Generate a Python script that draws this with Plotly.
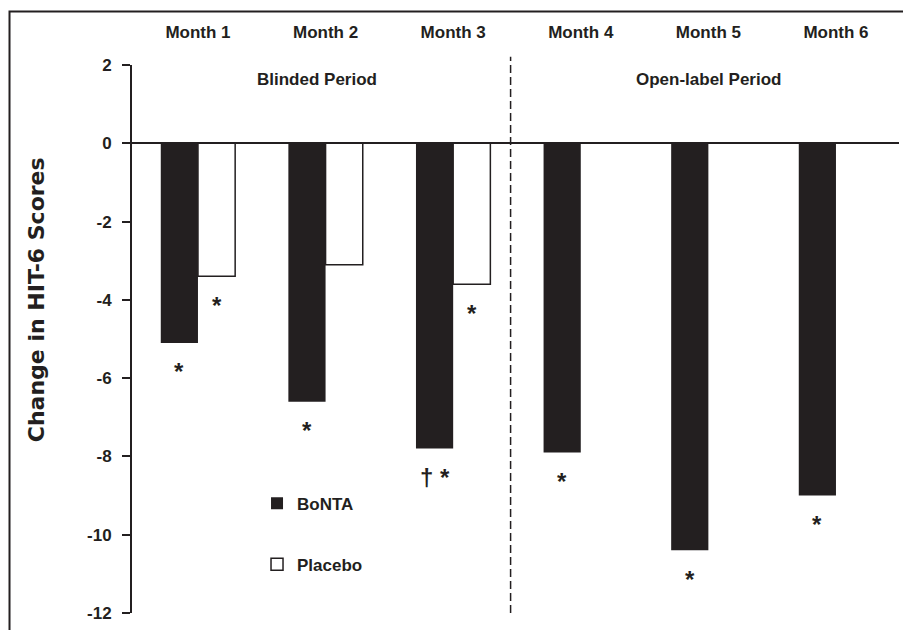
import plotly.graph_objects as go

# Mean change from baseline in HIT-6 scores, by month
months = ["Month 1", "Month 2", "Month 3", "Month 4", "Month 5", "Month 6"]
bonta = [-5.1, -6.6, -7.8, -7.9, -10.4, -9.0]
placebo = [-3.4, -3.1, -3.6, None, None, None]

# Significance markers shown under each bar
bonta_marks = ["*", "*", "† *", "*", "*", "*"]
placebo_marks = ["*", "", "*", "", "", ""]

y_ticks = [2, 0, -2, -4, -6, -8, -10, -12]
y_tick_text = ["2", "0", "-2", "-4", "-6", "-8", "-10", "-12"]

INK = "#231f20"
SANS = "Liberation Sans, Arial, Helvetica, sans-serif"
BAR_GAP = 0.417

fig = go.Figure()
fig.add_trace(go.Bar(
    name="BoNTA", x=months, y=bonta,
    marker=dict(color=INK, line=dict(color=INK, width=0)),
    legend="legend",
))
fig.add_trace(go.Bar(
    name="Placebo", x=months, y=placebo,
    marker=dict(color="white", line=dict(color=INK, width=1.5)),
    legend="legend2",
))

# star / dagger labels below the bar ends
half = (1 - BAR_GAP) / 4
mark_font = dict(family=SANS, size=24, color=INK, weight="bold")
annotations = []
for i, (v, m) in enumerate(zip(bonta, bonta_marks)):
    if m:
        annotations.append(dict(
            x=i - half, y=v, xref="x", yref="y", text=m, showarrow=False,
            xanchor="center", yanchor="middle", yshift=-29, font=mark_font,
        ))
for i, (v, m) in enumerate(zip(placebo, placebo_marks)):
    if m and v is not None:
        annotations.append(dict(
            x=i + half, y=v, xref="x", yref="y", text=m, showarrow=False,
            xanchor="center", yanchor="middle", yshift=-29, font=mark_font,
        ))

# period headings
for label, xc in [("Blinded Period", 0.93), ("Open-label Period", 4.0)]:
    annotations.append(dict(
        x=xc, y=1.62, xref="x", yref="y", text=label, showarrow=False,
        xanchor="center", yanchor="middle",
        font=dict(family=SANS, size=17, color=INK, weight="bold"),
    ))

# vertical axis title
annotations.append(dict(
    x=-0.125, y=0.571, xref="paper", yref="paper", text="Change in HIT-6 Scores",
    textangle=-90, showarrow=False, xanchor="center", yanchor="middle",
    font=dict(family="DejaVu Sans, Verdana, sans-serif", size=22, color=INK, weight="bold"),
))

shapes = [
    # divider between blinded and open-label periods
    dict(type="line", xref="x", yref="paper", x0=2.45, x1=2.45, y0=0.0, y1=1.015,
         line=dict(color=INK, width=1.5, dash="8px,4px")),
    # outer frame
    dict(type="rect", xref="paper", yref="paper", x0=-0.1597, x1=1.02, y0=-0.06, y1=1.0977,
         line=dict(color=INK, width=2), fillcolor="rgba(0,0,0,0)"),
]

legend_font = dict(family=SANS, size=17, color=INK, weight="bold")

fig.update_layout(
    width=903, height=630,
    margin=dict(l=132, r=4, t=65, b=17),
    paper_bgcolor="white", plot_bgcolor="white",
    barmode="group", bargap=BAR_GAP, bargroupgap=0,
    showlegend=True,
    legend=dict(x=0.163, y=0.2325, xanchor="left", yanchor="top", font=legend_font,
                bgcolor="rgba(0,0,0,0)", borderwidth=0),
    legend2=dict(x=0.163, y=0.121, xanchor="left", yanchor="top", font=legend_font,
                 bgcolor="rgba(0,0,0,0)", borderwidth=0),
    xaxis=dict(
        type="category", range=[-0.517, 5.494], side="top",
        showline=False, ticks="", showgrid=False, zeroline=False,
        tickfont=dict(family=SANS, size=17, color=INK, weight="bold"),
        ticklabelstandoff=23,
    ),
    yaxis=dict(
        range=[-12, 2], tickvals=y_ticks, ticktext=y_tick_text,
        ticks="outside", ticklen=8, tickwidth=2, tickcolor=INK,
        showline=True, linewidth=2, linecolor=INK,
        showgrid=False, zeroline=True, zerolinewidth=1.5, zerolinecolor=INK,
        tickfont=dict(family=SANS, size=17, color=INK, weight="bold"),
        ticklabelstandoff=7,
    ),
    annotations=annotations,
    shapes=shapes,
)

fig.write_html("out.html")
